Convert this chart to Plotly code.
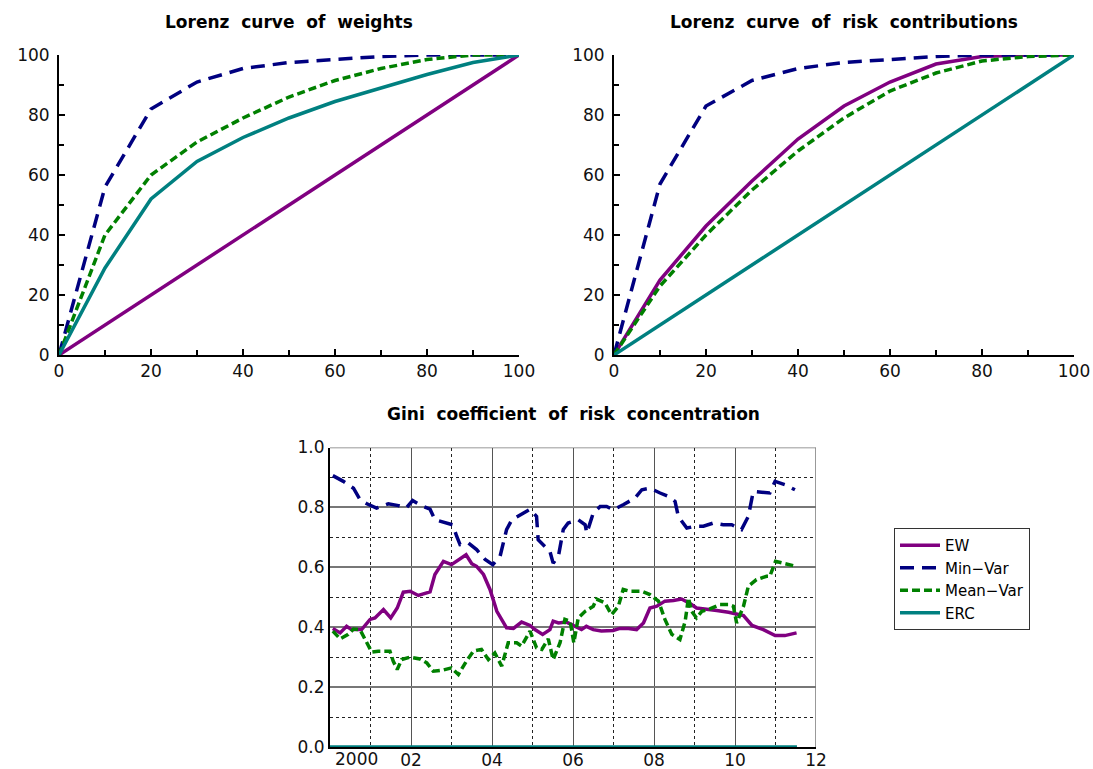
import plotly.graph_objects as go

# ---------------- data ----------------
lorenz_x = [0, 10, 20, 30, 40, 50, 60, 70, 80, 90, 100]

w_ew      = [0, 10, 20, 30, 40, 50, 60, 70, 80, 90, 100]
w_minvar  = [0, 56, 82, 91, 95.5, 97.5, 98.5, 99.5, 100, 100, 100]
w_meanvar = [0, 40, 60, 71, 79, 86, 91.5, 95.5, 98.5, 100, 100]
w_erc     = [0, 29, 52, 64.5, 72.5, 79, 84.5, 89, 93.5, 97.5, 100]

rc_ew      = [0, 25, 43, 58, 72, 83, 91, 97, 99.5, 100, 100]
rc_minvar  = [0, 57, 83, 91.5, 95.5, 97.5, 98.5, 99.5, 100, 100, 100]
rc_meanvar = [0, 23, 40, 55, 68, 79, 88, 94, 98, 99.5, 100]
rc_erc     = [0, 10, 20, 30, 40, 50, 60, 70, 80, 90, 100]

ew_t = [2000.07, 2000.25, 2000.41, 2000.53, 2000.78, 2000.99, 2001.11, 2001.32, 2001.5, 2001.66,
        2001.81, 2001.98, 2002.18, 2002.47, 2002.59, 2002.8, 2003.0, 2003.17, 2003.36, 2003.5,
        2003.62, 2003.79, 2003.95, 2004.12, 2004.36, 2004.53, 2004.73, 2004.94, 2005.06, 2005.25,
        2005.43, 2005.51, 2005.64, 2005.84, 2006.05, 2006.21, 2006.33, 2006.5, 2006.7, 2006.99,
        2007.16, 2007.37, 2007.57, 2007.74, 2007.9, 2008.07, 2008.27, 2008.48, 2008.68, 2008.89,
        2009.05, 2009.3, 2009.55, 2009.84, 2010.08, 2010.21, 2010.42, 2010.7, 2010.99, 2011.23,
        2011.52]
ew_gini = [0.396, 0.381, 0.403, 0.392, 0.392, 0.426, 0.431, 0.459, 0.431, 0.464,
           0.517, 0.52, 0.506, 0.518, 0.576, 0.62, 0.609, 0.626, 0.642, 0.612,
           0.603, 0.576, 0.526, 0.453, 0.398, 0.396, 0.417, 0.406, 0.392, 0.376,
           0.392, 0.42, 0.414, 0.417, 0.403, 0.392, 0.403, 0.392, 0.387, 0.389,
           0.396, 0.396, 0.392, 0.414, 0.464, 0.47, 0.487, 0.489, 0.494, 0.479,
           0.464, 0.461, 0.456, 0.45, 0.442, 0.439, 0.406, 0.392, 0.372, 0.372,
           0.381]

mv_t = [2000.07, 2000.33, 2000.58, 2000.74, 2000.91, 2001.15, 2001.44, 2001.69, 2001.88, 2002.04,
        2002.26, 2002.47, 2002.59, 2002.8, 2003.03, 2003.13, 2003.21, 2003.42, 2003.62, 2003.83,
        2004.02, 2004.2, 2004.36, 2004.49, 2004.69, 2004.94, 2005.1, 2005.14, 2005.43, 2005.51,
        2005.64, 2005.76, 2005.88, 2006.13, 2006.3, 2006.34, 2006.5, 2006.67, 2006.83, 2007.0,
        2007.24, 2007.53, 2007.7, 2007.9, 2008.15, 2008.35, 2008.52, 2008.6, 2008.81, 2009.01,
        2009.22, 2009.47, 2009.71, 2009.92, 2010.16, 2010.33, 2010.45, 2010.7, 2010.86, 2010.99,
        2011.23, 2011.48]
mv_gini = [0.906, 0.887, 0.864, 0.826, 0.812, 0.798, 0.812, 0.806, 0.798, 0.823,
           0.806, 0.794, 0.759, 0.75, 0.742, 0.703, 0.676, 0.681, 0.659, 0.626,
           0.609, 0.637, 0.726, 0.759, 0.776, 0.794, 0.77, 0.692, 0.653, 0.614,
           0.637, 0.726, 0.748, 0.759, 0.742, 0.714, 0.781, 0.803, 0.803, 0.792,
           0.809, 0.831, 0.859, 0.864, 0.848, 0.837, 0.82, 0.77, 0.731, 0.737,
           0.737, 0.748, 0.742, 0.742, 0.726, 0.77, 0.853, 0.85, 0.848, 0.887,
           0.876, 0.859]

mnv_t = [2000.07, 2000.25, 2000.45, 2000.58, 2000.74, 2000.86, 2001.03, 2001.19, 2001.48, 2001.56,
         2001.66, 2001.77, 2001.98, 2002.22, 2002.39, 2002.55, 2002.8, 2003.0, 2003.17, 2003.37,
         2003.54, 2003.74, 2003.91, 2004.07, 2004.24, 2004.4, 2004.61, 2004.73, 2004.94, 2005.1,
         2005.23, 2005.39, 2005.51, 2005.68, 2005.8, 2005.93, 2006.02, 2006.13, 2006.3, 2006.5,
         2006.58, 2006.79, 2006.95, 2007.12, 2007.24, 2007.41, 2007.7, 2007.9, 2008.11, 2008.27,
         2008.44, 2008.64, 2008.77, 2008.85, 2008.93, 2009.05, 2009.18, 2009.38, 2009.63, 2009.84,
         2009.96, 2010.04, 2010.21, 2010.33, 2010.53, 2010.78, 2010.86, 2011.0, 2011.18, 2011.52]
mnv_gini = [0.387, 0.361, 0.376, 0.394, 0.392, 0.359, 0.317, 0.32, 0.32, 0.287,
            0.259, 0.292, 0.3, 0.294, 0.281, 0.253, 0.257, 0.264, 0.242, 0.287,
            0.32, 0.326, 0.292, 0.314, 0.27, 0.348, 0.348, 0.337, 0.387, 0.331,
            0.326, 0.361, 0.292, 0.348, 0.426, 0.42, 0.348, 0.431, 0.453, 0.47,
            0.494, 0.481, 0.442, 0.47, 0.526, 0.52, 0.52, 0.509, 0.487, 0.426,
            0.376, 0.359, 0.42, 0.498, 0.453, 0.431, 0.453, 0.461, 0.476, 0.476,
            0.47, 0.414, 0.47, 0.537, 0.559, 0.57, 0.57, 0.62, 0.614, 0.603]

erc_t = [2000.0, 2011.53]
erc_gini = [0.0, 0.0]

series_names = ["EW", "Min\u2212Var", "Mean\u2212Var", "ERC"]
titles = ["Lorenz curve of weights", "Lorenz curve of risk contributions",
          "Gini coefficient of risk concentration"]

lorenz_ticks = [0, 20, 40, 60, 80, 100]
lorenz_minor = [10, 30, 50, 70, 90]
year_ticks = [2002, 2004, 2006, 2008, 2010, 2012]
year_labels = ["02", "04", "06", "08", "10", "12"]
first_year_label = "2000"
year_minor = [2001, 2003, 2005, 2007, 2009, 2011]
gini_ticks = [0.0, 0.2, 0.4, 0.6, 0.8, 1.0]
gini_labels = ["0.0", "0.2", "0.4", "0.6", "0.8", "1.0"]
gini_minor = [0.1, 0.3, 0.5, 0.7, 0.9]

# ---------------- styles ----------------
PURPLE = "#800080"
NAVY = "#000080"
GREEN = "#008000"
TEAL = "#008080"
LW = 3.5
styles = [
    dict(color=PURPLE, width=LW, dash="solid"),
    dict(color=NAVY, width=LW, dash="14px,8px"),
    dict(color=GREEN, width=LW, dash="8px,4px"),
    dict(color=TEAL, width=LW, dash="solid"),
]
FONT = "DejaVu Sans"

fig = go.Figure()

top_sets = [
    ("x", "y", [w_ew, w_minvar, w_meanvar, w_erc]),
    ("x2", "y2", [rc_ew, rc_minvar, rc_meanvar, rc_erc]),
]
for xa, ya, ys in top_sets:
    for i, yv in enumerate(ys):
        fig.add_trace(go.Scatter(x=lorenz_x, y=yv, mode="lines", line=styles[i],
                                 xaxis=xa, yaxis=ya, showlegend=False,
                                 name=series_names[i]))

gini_sets = [(ew_t, ew_gini), (mv_t, mv_gini), (mnv_t, mnv_gini), (erc_t, erc_gini)]
for i, (tx, gy) in enumerate(gini_sets):
    fig.add_trace(go.Scatter(x=tx, y=gy, mode="lines", line=styles[i],
                             xaxis="x3", yaxis="y3", name=series_names[i],
                             showlegend=True))

# body margin is removed by the post script, so the figure fills the window
W, H = 1093, 769
def px_x(a, b):
    return [a / W, b / W]
def px_y(top, bottom):
    return [1 - bottom / H, 1 - top / H]
def pxx(a):
    return a / W
def pxy(b):
    return 1 - b / H

tick_font = dict(family=FONT, size=17, color="#111")

lorenz_x_axis = dict(range=[0, 100], tickvals=lorenz_ticks, ticks="inside", ticklen=6,
                     tickwidth=1.5, tickcolor="black", showline=True, linecolor="black",
                     linewidth=2, showgrid=False, zeroline=False, tickfont=tick_font,
                     automargin=False,
                     minor=dict(tickvals=lorenz_minor, ticks="inside", ticklen=5,
                                tickcolor="black", tickwidth=1.5, showgrid=False))
lorenz_y_axis = dict(lorenz_x_axis, ticklabelstandoff=4)

fig.update_layout(
    width=W, height=H,
    margin=dict(l=0, r=0, t=0, b=0),
    paper_bgcolor="white", plot_bgcolor="white",
    font=dict(family=FONT, size=16, color="black"),
    xaxis=dict(domain=px_x(59, 519), anchor="y", **lorenz_x_axis),
    yaxis=dict(domain=px_y(55, 355), anchor="x", **lorenz_y_axis),
    xaxis2=dict(domain=px_x(614, 1074), anchor="y2", **lorenz_x_axis),
    yaxis2=dict(domain=px_y(55, 355), anchor="x2", **lorenz_y_axis),
    xaxis3=dict(domain=px_x(330, 816), anchor="y3", range=[2000, 2012],
                tickvals=year_ticks, ticktext=year_labels, ticks="",
                showline=True, linecolor="black", linewidth=2, mirror=False,
                showgrid=True, gridcolor="#555", gridwidth=1.2, zeroline=False,
                tickfont=tick_font, layer="below traces", automargin=False,
                ticklabelstandoff=-3,
                minor=dict(tickvals=year_minor, showgrid=True, gridcolor="#222",
                           gridwidth=1.2, griddash="dot", ticks="")),
    yaxis3=dict(domain=px_y(447.5, 747), anchor="x3", range=[0, 1],
                tickvals=gini_ticks, ticktext=gini_labels, ticks="",
                showline=True, linecolor="black", linewidth=2,
                showgrid=True, gridcolor="#777", gridwidth=1.5, zeroline=False,
                tickfont=tick_font, layer="below traces", automargin=False,
                minor=dict(tickvals=gini_minor, showgrid=True, gridcolor="#222",
                           gridwidth=1.2, griddash="dot", ticks="")),
    legend=dict(x=pxx(894), y=pxy(528), xanchor="left", yanchor="top",
                bordercolor="#333", borderwidth=1, bgcolor="white",
                font=dict(family=FONT, size=15, color="black"),
                tracegroupgap=0, itemwidth=40),
)

# top + right border for gini panel
fig.add_shape(type="line", xref="x3", yref="y3", x0=2000, x1=2012, y0=1, y1=1,
              line=dict(color="#777", width=1.5), layer="below")
fig.add_shape(type="line", xref="x3", yref="y3", x0=2012, x1=2012, y0=0, y1=1,
              line=dict(color="#777", width=1.5), layer="below")

# titles
title_pos = [((59 + 519) / 2, 22), ((614 + 1074) / 2, 22), ((330 + 816) / 2, 414)]
for t, (cx, cy) in zip(titles, title_pos):
    fig.add_annotation(text=t.replace(" ", " \u00a0"), x=pxx(cx), y=pxy(cy),
                       xref="paper", yref="paper",
                       showarrow=False, xanchor="center", yanchor="middle",
                       font=dict(family=FONT, size=17, color="black", weight="bold"))

# first year label (drawn offset to the right of the axis start, as in the original)
fig.add_annotation(text=first_year_label, x=2000.66, xref="x3", y=pxy(747), yref="paper",
                   yanchor="top", yshift=0, showarrow=False, font=tick_font)

fig.write_html(
    "out.html",
    config={"displayModeBar": False},
    post_script="document.body.style.margin='0';document.body.style.overflow='hidden';",
)
